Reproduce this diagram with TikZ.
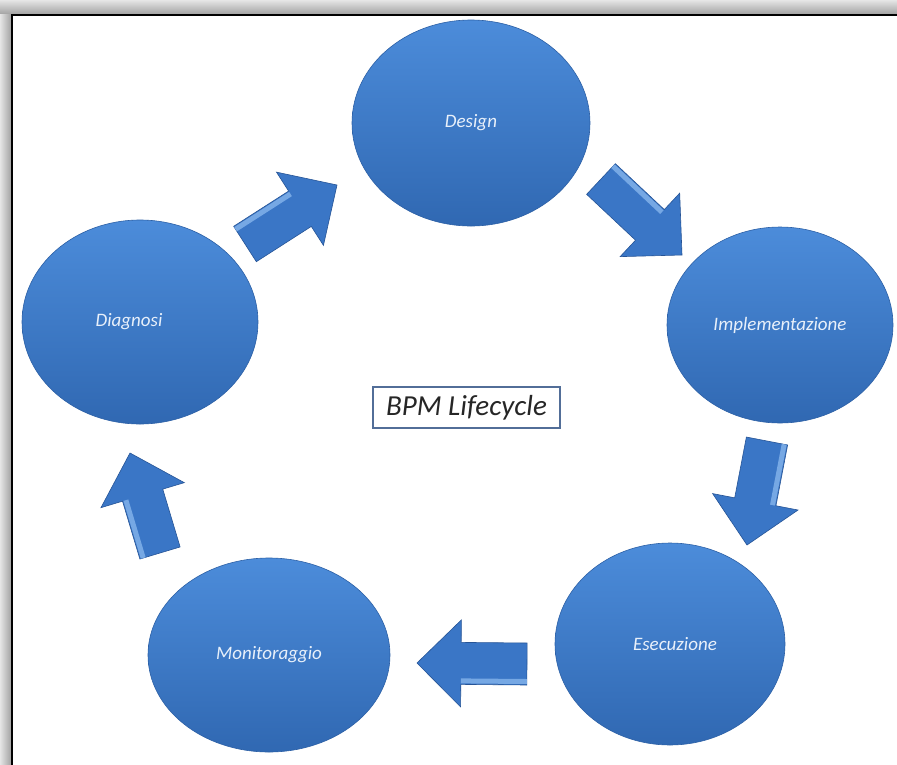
\documentclass[tikz,border=0pt]{standalone}
\usepackage{fontspec}
\setmainfont{Carlito}
\usetikzlibrary{calc,shapes.geometric}

\definecolor{stagetop}{RGB}{76,140,218}
\definecolor{stagebot}{RGB}{48,104,178}
\definecolor{stagerim}{RGB}{44,96,166}
\definecolor{labelwhite}{RGB}{232,240,250}
\definecolor{boxedge}{RGB}{82,110,152}
\definecolor{arrowblue}{RGB}{58,118,198}
\definecolor{arrowhi}{RGB}{118,168,228}
\definecolor{arrowrim}{RGB}{38,84,150}

% block arrow from #1 (tail centre) to #2 (tip)
\newcommand\stagearrow[2]{%
  \coordinate (sa-b) at ($(#2)!44pt!(#1)$);
  \filldraw[arrowshape]
    ($(#1)!21pt!90:(#2)$) -- ($(sa-b)!21pt!90:(#2)$) -- ($(sa-b)!43.5pt!90:(#2)$)
    -- (#2)
    -- ($(sa-b)!43.5pt!-90:(#2)$) -- ($(sa-b)!21pt!-90:(#2)$) -- ($(#1)!21pt!-90:(#2)$) -- cycle;
  \fill[arrowhi]
    ($(#1)!20pt!90:(#2)$) -- ($(sa-b)!20pt!90:(#2)$) -- ($(sa-b)!15pt!90:(#2)$) -- ($(#1)!15pt!90:(#2)$) -- cycle;
}

\begin{document}
\begin{tikzpicture}[x=1pt,y=1pt,
  stage/.style={ellipse, inner sep=0pt, top color=stagetop, bottom color=stagebot,
    draw=stagerim, line width=0.6pt, text=labelwhite,
    font=\itshape\fontsize{19}{21}\selectfont},
  arrowshape/.style={fill=arrowblue, draw=arrowrim, line width=0.6pt, line join=miter},
  titlebox/.style={draw=boxedge, line width=1.5pt, fill=white, inner sep=0pt,
    minimum width=187pt, minimum height=41pt, text=black!85,
    font=\itshape\fontsize{29}{32}\selectfont}]

\useasboundingbox (0,0) rectangle (897,-764);

% page shadow and frame
\fill[white] (0,0) rectangle (897,-764);
\shade[top color=gray!20, bottom color=gray!72] (0,0) rectangle (897,-14);
\shade[left color=gray!20, right color=gray!72] (0,-14) rectangle (11,-764);
\fill[white] (12,-15) rectangle (897,-764);
\draw[line width=2pt] (12,-770) -- (12,-15) -- (903,-15);

% lifecycle stages
\node[stage, minimum width=238pt, minimum height=206pt] (design) at (471,-123) {\raisebox{-4pt}{Design}};
\node[stage, minimum width=226pt, minimum height=196pt] (impl)   at (780,-325) {Implementazione};
\node[stage, minimum width=236pt, minimum height=204pt] (diag)   at (140,-322) {\hspace*{-22pt}Diagnosi};
\node[stage, minimum width=242pt, minimum height=194pt] (monit)  at (269,-655) {Monitoraggio};
\node[stage, minimum width=230pt, minimum height=202pt] (esec)   at (670,-644) {\hspace*{10pt}\raisebox{-3pt}{Esecuzione}};

% centre title
\node[titlebox] (title) at (466.5,-407.5) {BPM Lifecycle};

% arrow end points
\coordinate (a1t) at (245,-244); \coordinate (a1h) at (337,-185);
\coordinate (a2t) at (601,-179); \coordinate (a2h) at (682,-255);
\coordinate (a3t) at (767,-441); \coordinate (a3h) at (747,-545);
\coordinate (a4t) at (527,-664); \coordinate (a4h) at (417,-663);
\coordinate (a5t) at (160,-553); \coordinate (a5h) at (130,-453);

\stagearrow{a1t}{a1h}
\stagearrow{a2t}{a2h}
\stagearrow{a3t}{a3h}
\stagearrow{a4t}{a4h}
\stagearrow{a5t}{a5h}

\end{tikzpicture}
\end{document}
